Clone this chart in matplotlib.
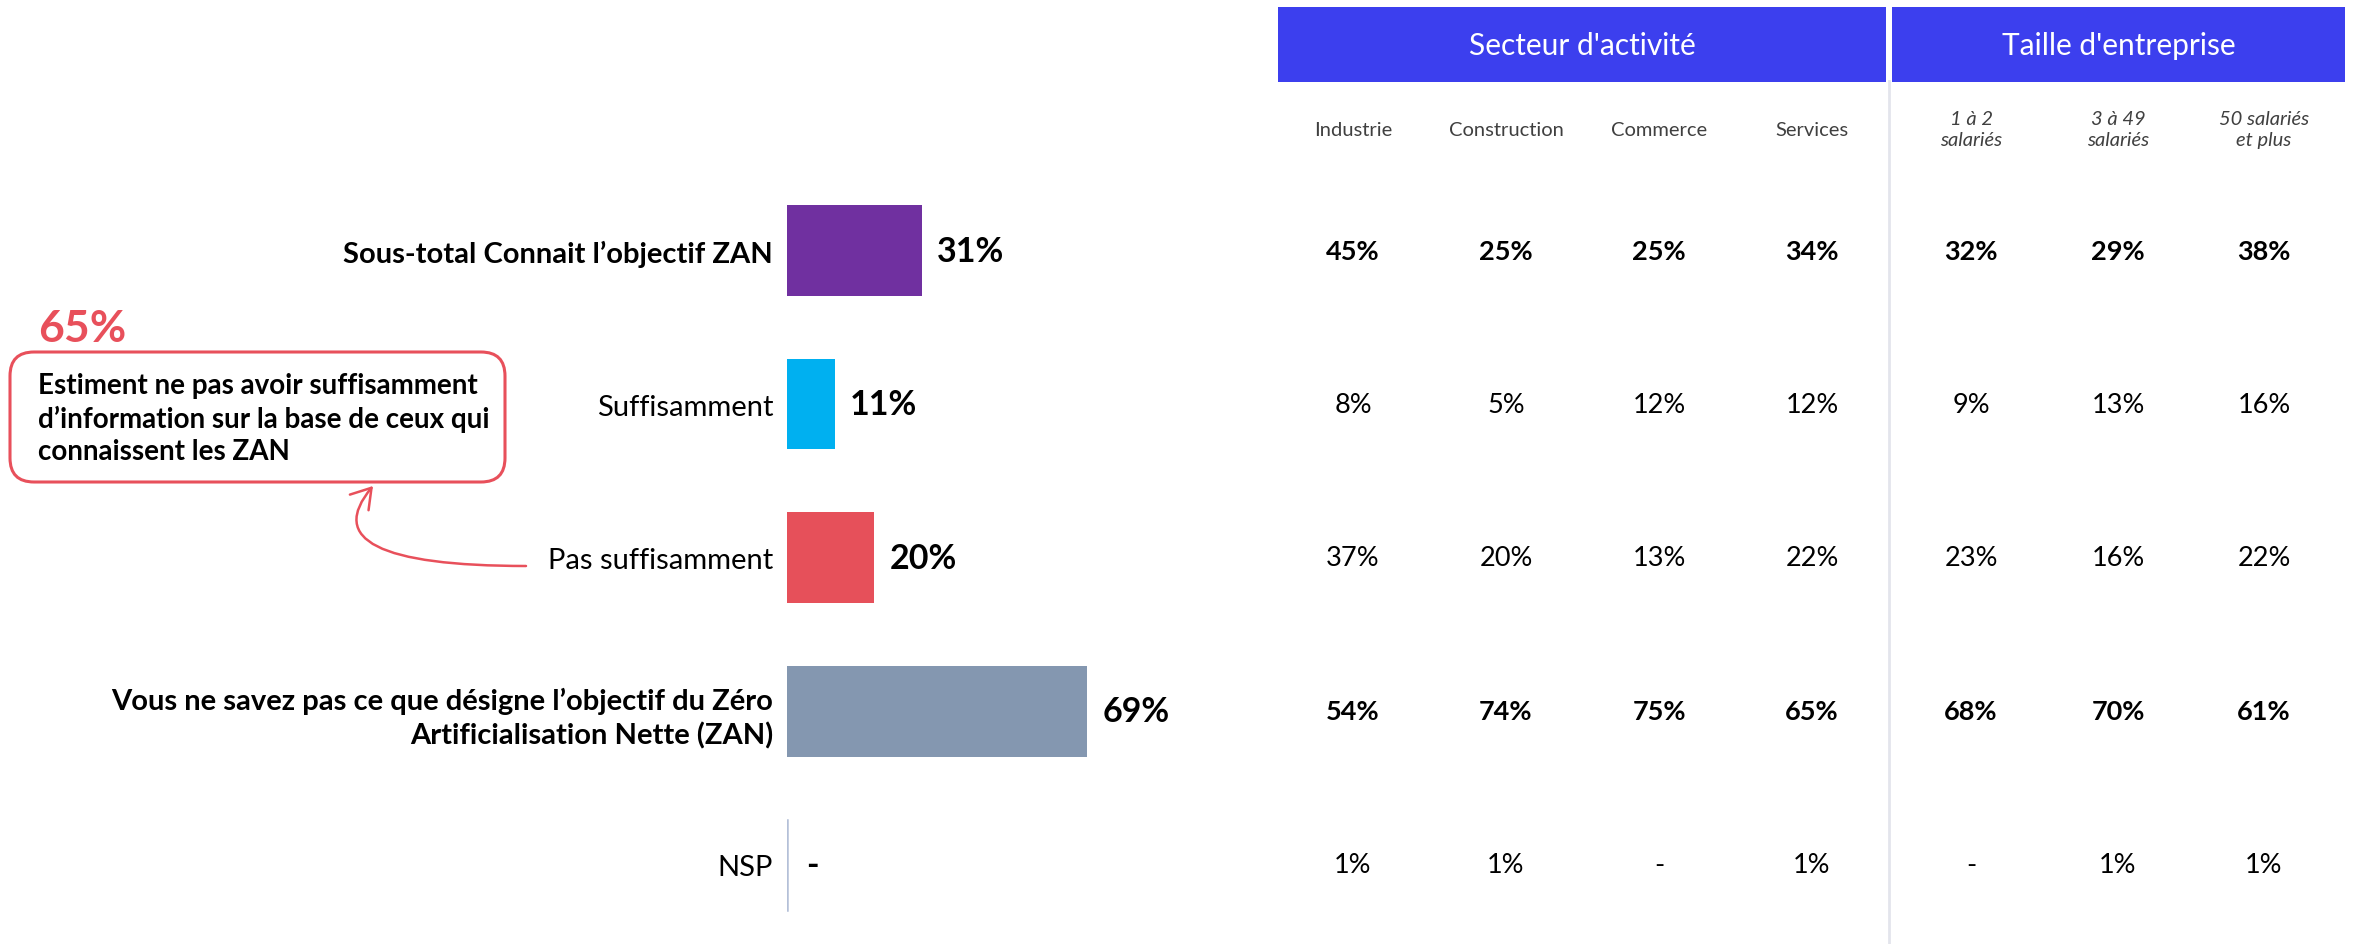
import matplotlib
matplotlib.use("Agg")
import matplotlib.pyplot as plt
from matplotlib.patches import FancyBboxPatch, Rectangle, FancyArrowPatch
from matplotlib.transforms import blended_transform_factory

plt.rcParams['font.family'] = ['Lato', 'DejaVu Sans']

# ---------------- data ----------------
categories = [
    "Sous-total Connait l\u2019objectif ZAN",
    "Suffisamment",
    "Pas suffisamment",
    "Vous ne savez pas ce que d\u00e9signe l\u2019objectif du Z\u00e9ro\nArtificialisation Nette (ZAN)",
    "NSP",
]
totals = [31, 11, 20, 69, None]
bold_rows = [True, False, False, True, False]
bar_colors = ["#7030A0", "#00B0F0", "#E6505A", "#8497B0", "#B4C0D8"]

sector_header = "Secteur d'activit\u00e9"
size_header = "Taille d'entreprise"
columns = ["Industrie", "Construction", "Commerce", "Services",
           "1 \u00e0 2\nsalari\u00e9s", "3 \u00e0 49\nsalari\u00e9s", "50 salari\u00e9s\net plus"]
industrie = [45, 8, 37, 54, 1]
construction = [25, 5, 20, 74, 1]
commerce = [25, 12, 13, 75, None]
services = [34, 12, 22, 65, 1]
size_1_2 = [32, 9, 23, 68, None]
size_3_49 = [29, 13, 16, 70, 1]
size_50_plus = [38, 16, 22, 61, 1]
table = [industrie, construction, commerce, services, size_1_2, size_3_49, size_50_plus]

callout_value = "65%"
callout_text = ("Estiment ne pas avoir suffisamment\n"
                "d\u2019information sur la base de ceux qui\n"
                "connaissent les ZAN")

# ---------------- layout ----------------
W, H = 2354, 945
fig = plt.figure(figsize=(W / 100, H / 100), dpi=100)

ov = fig.add_axes([0, 0, 1, 1])
ov.set_xlim(0, W)
ov.set_ylim(H, 0)
ov.axis("off")

px_per_pct = 4.35
bar_left = 787
row_top, row_bot = 174.7, 942.8
bax = fig.add_axes([bar_left / W, 1 - row_bot / H, 100 * px_per_pct / W, (row_bot - row_top) / H])
bax.patch.set_alpha(0)
bax.set_xlim(0, 100)
bax.set_ylim(len(categories) - 0.5, -0.5)
for s in bax.spines.values():
    s.set_visible(False)
bax.set_xticks([])

ypos = list(range(len(categories)))
vals = [v if v is not None else 0 for v in totals]
bax.barh(ypos, vals, height=0.59, color=bar_colors, zorder=2)
# zero line for the empty NSP bar
bax.plot([0, 0], [4 - 0.295, 4 + 0.295], color=bar_colors[4], lw=1.8, zorder=3)

for y, v in zip(ypos, totals):
    bax.annotate(f"{v}%" if v is not None else "-", xy=(v if v is not None else 0, y),
                 xytext=(11 if v is not None else 14, 0), textcoords="offset points",
                 ha="left", va="center", fontsize=24.5, fontweight="bold", color="black")

bax.set_yticks(ypos)
bax.set_yticklabels(categories)
bax.tick_params(axis="y", length=0, pad=10, labelsize=21)
for lab, b in zip(bax.get_yticklabels(), bold_rows):
    lab.set_fontweight("bold" if b else "normal")
    lab.set_color("black")
    lab.set_linespacing(1.35)

# ---------------- table ----------------
col_x = [1353, 1506, 1659, 1812, 1971, 2118, 2264]
tr = blended_transform_factory(ov.transData, bax.transData)
for cx, colvals in zip(col_x, table):
    for y, v in enumerate(colvals):
        ov.text(cx, y, f"{v}%" if v is not None else "-", transform=tr,
                ha="center", va="center", fontsize=19.5,
                fontweight="bold" if bold_rows[y] else "normal", color="black")

# header boxes
hdr_color = "#3C3FEE"
ov.add_patch(Rectangle((1278, 7.5), 1886 - 1278, 75, color=hdr_color, lw=0))
ov.add_patch(Rectangle((1892, 7.5), 2345 - 1892, 75, color=hdr_color, lw=0))
ov.text((1278 + 1886) / 2, 46, sector_header, ha="center", va="center",
        fontsize=21.5, color="white")
ov.text((1892 + 2345) / 2, 46, size_header, ha="center", va="center",
        fontsize=21.5, color="white")
ov.plot([1889, 1889], [82, H], color="#E3E5EC", lw=2)

for i, (cx, lab) in enumerate(zip(col_x, columns)):
    ov.text(cx, 130, lab, ha="center", va="center", fontsize=14.5,
            color="#404040", style="italic" if i >= 4 else "normal", linespacing=1.27)

# ---------------- callout ----------------
red = "#E8505B"
ov.text(38, 342, callout_value, ha="left", va="baseline", fontsize=32,
        fontweight="bold", color=red)
ov.add_patch(FancyBboxPatch((10, 353), 495, 130,
                            boxstyle="round,pad=0,rounding_size=24",
                            fc="white", ec=red, lw=2.2))
ov.text(38, 419, callout_text, ha="left", va="center", fontsize=20,
        fontweight="bold", color="black", linespacing=1.3)
ov.add_patch(FancyArrowPatch((526, 567), (373, 487),
                             connectionstyle="angle3,angleA=0,angleB=50",
                             arrowstyle="->,head_length=0.55,head_width=0.35",
                             mutation_scale=25, color=red, lw=1.8,
                             shrinkA=0, shrinkB=0))

fig.savefig("out.png", dpi=100, facecolor="white")
